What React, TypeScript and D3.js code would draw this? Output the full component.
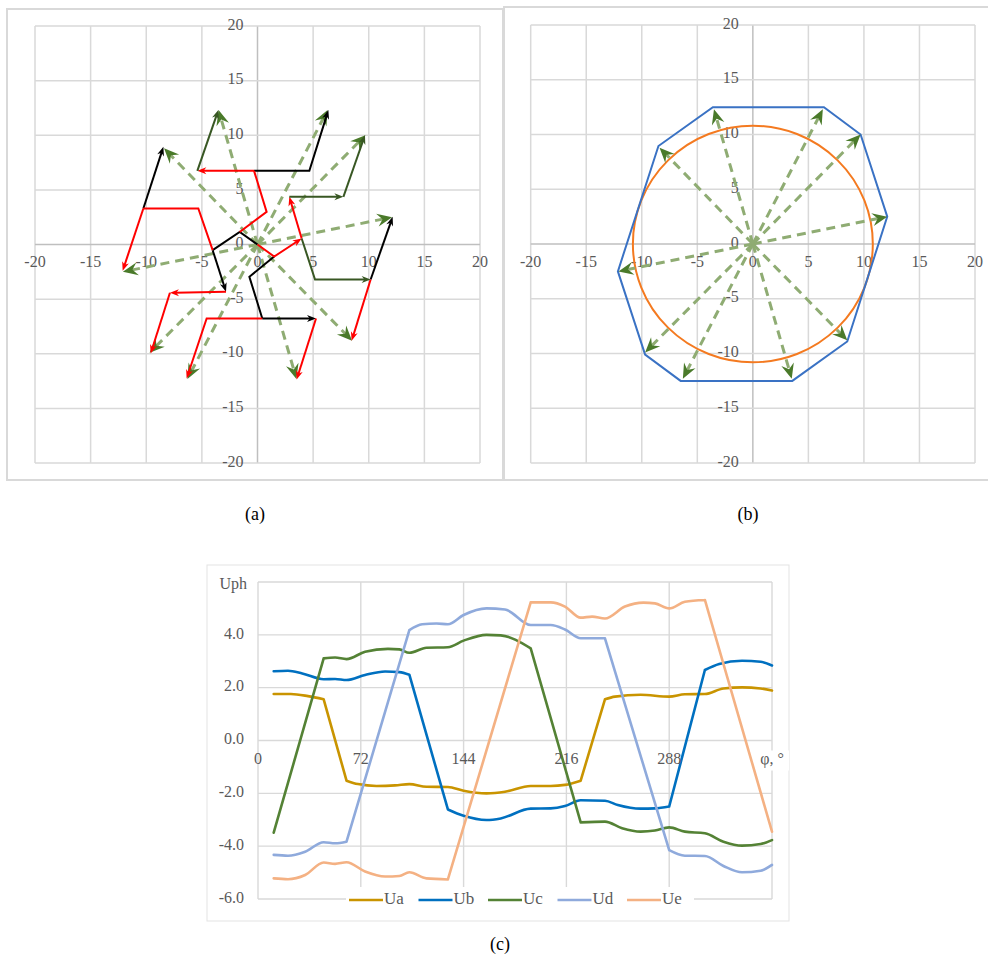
import React from 'react';
import * as d3 from 'd3';

type P = [number, number];
type Seg = { pts: P[]; arrow: boolean };

// ---------- panels (a) and (b) ----------
const gridTicks = [-20, -15, -10, -5, 0, 5, 10, 15, 20];

const phaseTipX = [6.3, 9.7, 12.1, 8.5, 3.5, -6.3, -9.7, -12.1, -8.4, -3.5];
const phaseTipY = [12.3, 10.0, 2.5, -8.8, -12.3, -12.3, -9.9, -2.5, 8.8, 12.3];

const blackPaths: Seg[] = [
  { pts: [[0, 0], [-1.6, 1.15], [-4.03, -0.52]], arrow: false },
  { pts: [[-4.03, -0.52], [-2.83, -4.33]], arrow: true },
  { pts: [[-10.26, 3.3], [-8.46, 8.94]], arrow: true },
  { pts: [[-0.31, 6.74], [4.66, 6.74], [6.37, 12.3]], arrow: true },
  { pts: [[10.17, -3.2], [12.15, 2.53]], arrow: true },
  { pts: [[1.5, -1.1], [-0.73, -2.96], [0.43, -6.77]], arrow: false },
  { pts: [[0.43, -6.77], [5.26, -6.77]], arrow: true },
];
const redPaths: Seg[] = [
  { pts: [[0, 0], [1.5, -1.1], [3.97, 0.55]], arrow: true },
  { pts: [[-1.6, 1.15], [0.82, 2.99], [-0.31, 6.74]], arrow: false },
  { pts: [[-0.31, 6.74], [-5.41, 6.74]], arrow: true },
  { pts: [[-4.03, -0.52], [-5.32, 3.3], [-10.26, 3.3]], arrow: false },
  { pts: [[-10.26, 3.3], [-12.12, -2.41]], arrow: true },
  { pts: [[-2.83, -4.33], [-7.87, -4.42]], arrow: true },
  { pts: [[-7.87, -4.42], [-9.6, -9.98]], arrow: true },
  { pts: [[3.97, 0.55], [2.86, 4.36]], arrow: true },
  { pts: [[10.17, -3.2], [8.46, -8.82]], arrow: true },
  { pts: [[5.26, -6.77], [3.52, -12.36]], arrow: true },
  { pts: [[0.43, -6.77], [-4.57, -6.77], [-6.37, -12.27]], arrow: true },
];
const greenPaths: Seg[] = [
  { pts: [[-5.41, 6.74], [-3.52, 12.3]], arrow: true },
  { pts: [[2.86, 4.36], [7.72, 4.36]], arrow: true },
  { pts: [[7.72, 4.36], [9.66, 10.0]], arrow: true },
  { pts: [[3.97, 0.55], [5.17, -3.2], [10.17, -3.2]], arrow: true },
];

const polyX = [-3.6, 6.4, 9.7, 12.1, 8.5, 3.55, -6.5, -9.7, -12.15, -8.5];
const polyY = [12.5, 12.5, 10.0, 2.5, -8.9, -12.5, -12.5, -10.1, -2.5, 8.95];
const circleR = 10.8;

// ---------- panel (c) ----------
const angTicks = [0, 72, 144, 216, 288, 360];
const angTickLabels = ['0', '72', '144', '216', '288', 'φ, °'];
const uTicks = [-6, -4, -2, 0, 2, 4, 6];
const uTickLabels = ['-6.0', '-4.0', '-2.0', '0.0', '2.0', '4.0', 'Uph'];
const seriesNames = ['Ua', 'Ub', 'Uc', 'Ud', 'Ue'];

const Ua: P[] = [[11,1.76],[23,1.76],[35,1.68],[46,1.56],[62,-1.52],[70,-1.65],[83,-1.72],[96,-1.70],[106,-1.65],[118,-1.75],[133,-1.76],[144,-1.90],[160,-2.0],[173,-1.94],[191,-1.72],[205,-1.72],[215,-1.68],[226,-1.52],[243,1.56],[250,1.66],[268,1.73],[288,1.66],[299,1.75],[313,1.76],[326,1.97],[339,2.01],[352,1.97],[360,1.89]];
const Ub: P[] = [[11,2.62],[21,2.64],[31,2.54],[46,2.32],[54,2.33],[62,2.29],[75,2.48],[89,2.61],[99,2.59],[106,2.49],[133,-2.61],[144,-2.85],[160,-3.01],[170,-2.95],[191,-2.58],[205,-2.57],[215,-2.48],[226,-2.26],[243,-2.28],[252,-2.44],[268,-2.58],[278,-2.57],[288,-2.50],[313,2.67],[323,2.9],[339,3.02],[352,2.98],[360,2.84]];
const Uc: P[] = [[11,-3.49],[46,3.11],[54,3.14],[62,3.08],[75,3.36],[91,3.47],[99,3.45],[106,3.32],[118,3.51],[133,3.53],[144,3.78],[160,4.0],[170,3.98],[191,3.49],[226,-3.10],[243,-3.07],[255,-3.32],[268,-3.45],[278,-3.41],[288,-3.29],[299,-3.45],[313,-3.51],[326,-3.83],[339,-3.98],[352,-3.92],[360,-3.77]];
const Ud: P[] = [[11,-4.33],[21,-4.36],[33,-4.21],[46,-3.85],[54,-3.89],[62,-3.83],[106,4.18],[115,4.40],[125,4.43],[133,4.40],[144,4.75],[160,5.0],[173,4.96],[191,4.37],[205,4.37],[215,4.2],[226,3.87],[243,3.87],[288,-4.15],[299,-4.36],[313,-4.37],[326,-4.75],[339,-4.99],[352,-4.93],[360,-4.71]];
const Ue: P[] = [[11,-5.22],[21,-5.25],[33,-5.09],[46,-4.62],[54,-4.67],[62,-4.61],[75,-4.96],[89,-5.15],[99,-5.13],[106,-4.99],[118,-5.22],[133,-5.26],[191,5.23],[205,5.23],[215,5.07],[226,4.65],[234,4.69],[243,4.62],[257,5.07],[270,5.22],[278,5.19],[288,5.0],[299,5.25],[313,5.32],[360,-3.45]];

const seriesData = [Ua, Ub, Uc, Ud, Ue];
const seriesColors = ['#c99400', '#0070c0', '#548235', '#8faadc', '#f4b183'];

const FONT = "'Liberation Serif', 'DejaVu Serif', serif";
const LABEL = '#595959';
const GRID = '#d9d9d9';

function arrowPath(x1: number, y1: number, x2: number, y2: number, L: number, W: number, notch: number) {
  const a = Math.atan2(y2 - y1, x2 - x1);
  const ux = Math.cos(a), uy = Math.sin(a);
  const nx = -uy, ny = ux;
  const bx = x2 - L * ux, by = y2 - L * uy;
  const mx = x2 - notch * L * ux, my = y2 - notch * L * uy;
  return `M${x2},${y2}L${bx + (W / 2) * nx},${by + (W / 2) * ny}L${mx},${my}L${bx - (W / 2) * nx},${by - (W / 2) * ny}Z`;
}

function VectorPanel(props: {
  x0: number; x1: number; y0: number; y1: number;
  children: (sx: d3.ScaleLinear<number, number>, sy: d3.ScaleLinear<number, number>) => React.ReactNode;
}) {
  const sx = d3.scaleLinear().domain([-20, 20]).range([props.x0, props.x1]);
  const sy = d3.scaleLinear().domain([-20, 20]).range([props.y1, props.y0]);
  return (
    <g>
      {gridTicks.map((t) => (
        <line key={'v' + t} x1={sx(t)} x2={sx(t)} y1={sy(-20)} y2={sy(20)}
          stroke={t === 0 ? '#bfbfbf' : GRID} strokeWidth={1.5} />
      ))}
      {gridTicks.map((t) => (
        <line key={'h' + t} x1={sx(-20)} x2={sx(20)} y1={sy(t)} y2={sy(t)}
          stroke={t === 0 ? '#bfbfbf' : GRID} strokeWidth={1.5} />
      ))}
      {gridTicks.map((t) => (
        <text key={'xl' + t} x={sx(t)} y={sy(0) + 19} textAnchor="middle" dominantBaseline="middle"
          style={{ fontFamily: FONT }} fontSize={16} fill={LABEL}>{t}</text>
      ))}
      {gridTicks.map((t) => (
        <text key={'yl' + t} x={sx(0) - 14} y={sy(t)} textAnchor="end" dominantBaseline="middle"
          style={{ fontFamily: FONT }} fontSize={16} fill={LABEL}>{t}</text>
      ))}
      {props.children(sx, sy)}
    </g>
  );
}

function dashedVectors(sx: d3.ScaleLinear<number, number>, sy: d3.ScaleLinear<number, number>) {
  return phaseTipX.map((tx, i) => {
    const ty = phaseTipY[i];
    const x1 = sx(0), y1 = sy(0), x2 = sx(tx), y2 = sy(ty);
    const len = Math.hypot(x2 - x1, y2 - y1);
    const ex = x2 - ((x2 - x1) / len) * 8, ey = y2 - ((y2 - y1) / len) * 8;
    return (
      <g key={'dv' + i}>
        <line x1={x1} y1={y1} x2={ex} y2={ey} stroke="#8fac73" strokeWidth={3} strokeDasharray="9,6" />
        <path d={arrowPath(x1, y1, x2, y2, 15, 13, 0.65)} fill="#4a7a2a" />
      </g>
    );
  });
}

function segments(list: Seg[], color: string, sx: d3.ScaleLinear<number, number>, sy: d3.ScaleLinear<number, number>, key: string) {
  const line = d3.line<P>().x((d) => sx(d[0])).y((d) => sy(d[1]));
  return list.map((s, i) => {
    const n = s.pts.length;
    const a = s.pts[n - 2], b = s.pts[n - 1];
    const ax = sx(a[0]), ay = sy(a[1]), bx = sx(b[0]), by = sy(b[1]);
    let pts = s.pts;
    if (s.arrow) {
      const len = Math.hypot(bx - ax, by - ay);
      const shortB: P = [sx.invert(bx - ((bx - ax) / len) * 5), sy.invert(by - ((by - ay) / len) * 5)];
      pts = [...s.pts.slice(0, n - 1), shortB];
    }
    return (
      <g key={key + i}>
        <path d={line(pts) || ''} fill="none" stroke={color} strokeWidth={2} strokeLinejoin="miter" />
        {s.arrow && <path d={arrowPath(ax, ay, bx, by, 9, 7, 0.7)} fill={color} />}
      </g>
    );
  });
}

// split a series into smooth runs and steep straight transitions
function seriesPath(s: P[], sx: d3.ScaleLinear<number, number>, sy: d3.ScaleLinear<number, number>) {
  const smooth = d3.line<P>().x((d) => sx(d[0])).y((d) => sy(d[1])).curve(d3.curveMonotoneX);
  const straight = d3.line<P>().x((d) => sx(d[0])).y((d) => sy(d[1]));
  const parts: string[] = [];
  let run: P[] = [s[0]];
  for (let i = 1; i < s.length; i++) {
    if (Math.abs(s[i][1] - s[i - 1][1]) > 1.5) {
      if (run.length > 1) parts.push(smooth(run) || '');
      parts.push(straight([s[i - 1], s[i]]) || '');
      run = [s[i]];
    } else {
      run.push(s[i]);
    }
  }
  if (run.length > 1) parts.push(smooth(run) || '');
  return parts;
}

function PanelC() {
  const sx = d3.scaleLinear().domain([0, 360]).range([258, 772]);
  const sy = d3.scaleLinear().domain([-6, 6]).range([899, 582]);
  const legendStart = 349;
  const legendStep = 69.5;
  return (
    <g>
      <rect x={207} y={565} width={582} height={356} fill="#fff" stroke="#e3e3e3" strokeWidth={1} />
      {uTicks.map((t) => (
        <line key={'h' + t} x1={sx(0)} x2={sx(360)} y1={sy(t)} y2={sy(t)} stroke={GRID} strokeWidth={1.4} />
      ))}
      {angTicks.map((t) => (
        <line key={'v' + t} x1={sx(t)} x2={sx(t)} y1={sy(6)} y2={sy(-6)} stroke={GRID} strokeWidth={1.4} />
      ))}
      {seriesData.map((s, i) => (
        <path key={'s' + i} d={seriesPath(s, sx, sy).join('')} fill="none" stroke={seriesColors[i]}
          strokeWidth={2.6} strokeLinejoin="round" strokeLinecap="round" />
      ))}
      {uTicks.map((t, i) => (
        <text key={'yl' + t} x={t === 6 ? 247 : 244} y={sy(t) + (t === 6 ? 3 : 0)} textAnchor="end" dominantBaseline="middle"
          style={{ fontFamily: FONT }} fontSize={16} fill={LABEL}>{uTickLabels[i]}</text>
      ))}
      {angTicks.map((t, i) => (
        <g key={'xl' + t}>
          {t === 360 && <rect x={sx(t) - 16} y={sy(0) + 10} width={33} height={20} fill="#fff" />}
          <text x={sx(t)} y={sy(0) + 20} textAnchor="middle" dominantBaseline="middle"
            style={{ fontFamily: FONT }} fontSize={16} fill={LABEL}>{angTickLabels[i]}</text>
        </g>
      ))}
      <rect x={346} y={887} width={348} height={24} fill="#fff" />
      {seriesNames.map((n, i) => {
        const x = legendStart + i * legendStep;
        return (
          <g key={'lg' + n}>
            <line x1={x} x2={x + 34} y1={900} y2={900} stroke={seriesColors[i]} strokeWidth={2.6} />
            <text x={x + 35} y={900} dominantBaseline="middle" style={{ fontFamily: FONT }} fontSize={17} fill={LABEL}>{n}</text>
          </g>
        );
      })}
    </g>
  );
}

export default function App() {
  return (
    <svg width={988} height={971} style={{ position: 'absolute', left: 0, top: 0, background: '#fff' }}>
      <rect x={0} y={0} width={988} height={971} fill="#fff" />
      {/* panel (a) */}
      <rect x={7} y={9} width={496} height={471} fill="none" stroke={GRID} strokeWidth={2} />
      <VectorPanel x0={35} x1={480} y0={26} y1={463}>
        {(sx, sy) => (
          <g>
            {dashedVectors(sx, sy)}
            {segments(blackPaths, '#000000', sx, sy, 'b')}
            {segments(redPaths, '#ff0000', sx, sy, 'r')}
            {segments(greenPaths, '#385723', sx, sy, 'g')}
          </g>
        )}
      </VectorPanel>
      {/* panel (b) */}
      <rect x={504} y={7} width={490} height={473} fill="none" stroke={GRID} strokeWidth={2} />
      <VectorPanel x0={530.7} x1={975} y0={25} y1={463}>
        {(sx, sy) => (
          <g>
            <ellipse cx={sx(0)} cy={sy(0)} rx={sx(circleR) - sx(0)} ry={sy(0) - sy(circleR)}
              fill="none" stroke="#f47a20" strokeWidth={2} />
            <path d={(d3.line<number>().x((i) => sx(polyX[i])).y((i) => sy(polyY[i])).curve(d3.curveLinearClosed))(d3.range(polyX.length)) || ''}
              fill="none" stroke="#3a72c4" strokeWidth={2} />
            {dashedVectors(sx, sy)}
          </g>
        )}
      </VectorPanel>
      <text x={255} y={516} textAnchor="middle" dominantBaseline="middle" style={{ fontFamily: FONT }} fontSize={18} fill="#000">(a)</text>
      <text x={748} y={516} textAnchor="middle" dominantBaseline="middle" style={{ fontFamily: FONT }} fontSize={18} fill="#000">(b)</text>
      <PanelC />
      <text x={500} y={946} textAnchor="middle" dominantBaseline="middle" style={{ fontFamily: FONT }} fontSize={18} fill="#000">(c)</text>
    </svg>
  );
}
